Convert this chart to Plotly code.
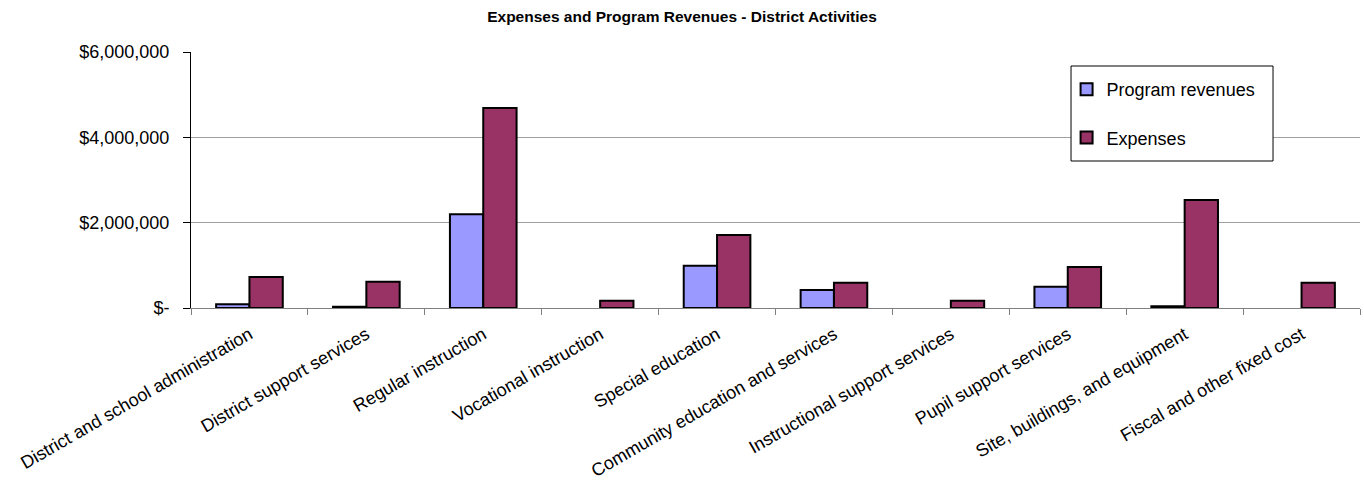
import plotly.graph_objects as go

categories = [
    "District and school administration",
    "District support services",
    "Regular instruction",
    "Vocational instruction",
    "Special education",
    "Community education and services",
    "Instructional support services",
    "Pupil support services",
    "Site, buildings, and equipment",
    "Fiscal and other fixed cost",
]
program_revenues = [87000, 30000, 2200000, 0, 990000, 422000, 0, 500000, 40000, 0]
expenses = [727000, 617000, 4690000, 171000, 1710000, 593000, 171000, 961000, 2530000, 593000]
y_tickvals = [0, 2000000, 4000000, 6000000]
y_ticktext = ["$-", "$2,000,000", "$4,000,000", "$6,000,000"]

FONT = "Liberation Sans, Arial, sans-serif"

fig = go.Figure()
fig.add_trace(go.Bar(
    x=categories, y=[v if v else None for v in program_revenues],
    name="Program revenues",
    marker=dict(color="#9999FF", line=dict(color="#000000", width=2)),
    legendgroup="a",
))
fig.add_trace(go.Bar(
    x=categories, y=[v if v else None for v in expenses], name="Expenses",
    marker=dict(color="#993366", line=dict(color="#000000", width=2)),
    legendgroup="b",
))

# legend frame
fig.add_shape(type="rect", xref="paper", yref="paper",
              x0=0.7528, x1=0.9256, y0=0.5742, y1=0.9453,
              line=dict(color="#000000", width=1), fillcolor="white", layer="above")

fig.update_layout(
    width=1364, height=481,
    margin=dict(l=191, r=4, t=52, b=173),
    paper_bgcolor="white", plot_bgcolor="white",
    font=dict(family=FONT, size=18, color="#000000"),
    title=dict(text="<b>Expenses and Program Revenues - District Activities</b>",
               x=0.5, xanchor="center", y=0.965, yanchor="middle",
               font=dict(family=FONT, size=15.5, color="#000000")),
    barmode="group", bargap=0.43, bargroupgap=0,
    showlegend=True,
    legend=dict(x=0.749, y=0.926, xanchor="left", yanchor="top",
                bgcolor="rgba(0,0,0,0)", borderwidth=0,
                font=dict(family=FONT, size=18), tracegroupgap=22,
                itemwidth=30),
    xaxis=dict(type="category", tickson="boundaries", ticks="outside",
               ticklen=6, tickcolor="#808080", showline=True,
               linecolor="#808080", linewidth=1, tickangle=-30,
               ticklabelstandoff=8, automargin=False,
               tickfont=dict(family=FONT, size=18), showgrid=False),
    yaxis=dict(range=[0, 6000000], tickvals=y_tickvals, ticktext=y_ticktext,
               ticks="outside", ticklen=7, tickcolor="#000000",
               showline=True, linecolor="#000000", linewidth=1,
               showgrid=True, gridcolor="#A0A0A0", gridwidth=1,
               ticklabelstandoff=10, automargin=False,
               zeroline=False, tickfont=dict(family=FONT, size=18)),
)

fig.write_html("out.html")
